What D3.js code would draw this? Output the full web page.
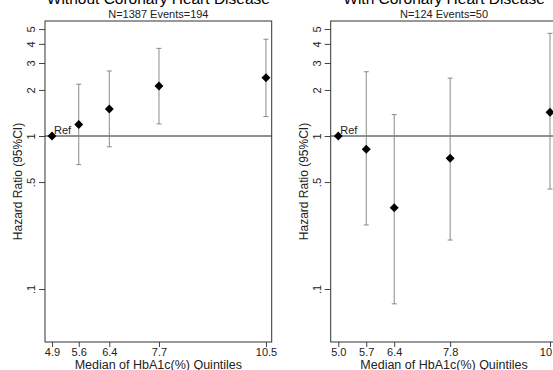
<!DOCTYPE html>
<html>
<head>
<meta charset="utf-8">
<script src="https://cdn.jsdelivr.net/npm/d3@7"></script>
<style>
  body { margin: 0; background: #fff; }
  svg { display: block; font-family: "Liberation Sans", Arial, sans-serif; }
</style>
</head>
<body>
<div id="chart"></div>
<script>
// HbA1c quintile medians and hazard ratios, one set per panel
const titles = ["Without Coronary Heart Disease", "With Coronary Heart Disease"];
const subtitles = ["N=1387 Events=194", "N=124 Events=50"];

const medianA = [4.9, 5.6, 6.4, 7.7, 10.5];
const hrA     = [1, 1.19, 1.50, 2.12, 2.40];
const lowA    = [null, 0.65, 0.85, 1.20, 1.34];
const highA   = [null, 2.18, 2.66, 3.74, 4.29];

const medianB = [5.0, 5.7, 6.4, 7.8, 10.3];
const hrB     = [1, 0.82, 0.34, 0.715, 1.43];
const lowB    = [null, 0.262, 0.080, 0.209, 0.45];
const highB   = [null, 2.63, 1.38, 2.39, 4.69];

const yTicks = [0.1, 0.5, 1, 2, 3, 4, 5];
const yTickLabels = [".1", ".5", "1", "2", "3", "4", "5"];

const W = 553, H = 370;

const svg = d3.select("#chart")
    .append("svg")
    .attr("width", W)
    .attr("height", H);

// one panel = one plot box
const panels = [
    { left: 45, right: 271.7, xdom: [4.717, 10.65], med: medianA, hr: hrA, lo: lowA, hi: highA },
    { left: 330.7, right: 557.4, xdom: [4.81, 10.485], med: medianB, hr: hrB, lo: lowB, hi: highB }
];
const plotTop = 21, plotBottom = 342;

panels.forEach((p, i) => {
    const x = d3.scaleLinear().domain(p.xdom).range([p.left, p.right]);
    // log scale: 1 -> 136, .1 -> 289
    const y = d3.scaleLog().domain([0.1, 1]).range([289, 136]);

    const g = svg.append("g");

    // y axis
    const yAxis = g.append("g")
        .attr("transform", `translate(${p.left},0)`)
        .call(d3.axisLeft(y).tickValues(yTicks)
            .tickFormat((d, k) => yTickLabels[k]).tickSize(6));
    yAxis.select(".domain").remove();
    yAxis.selectAll(".tick line").attr("stroke", "#444");
    yAxis.selectAll(".tick text")
        .attr("transform", "rotate(-90)")
        .attr("x", 0).attr("y", -10).attr("dy", 0)
        .attr("text-anchor", "middle")
        .attr("font-size", 11)
        .attr("fill", "#222")
        .style("font-family", "Liberation Sans, Arial, sans-serif");

    // x axis
    const xAxis = g.append("g")
        .attr("transform", `translate(0,${plotBottom})`)
        .call(d3.axisBottom(x).tickValues(p.med)
            .tickFormat(d3.format(".1f")).tickSize(5).tickPadding(1));
    xAxis.select(".domain").remove();
    xAxis.selectAll(".tick line").attr("stroke", "#444");
    xAxis.selectAll(".tick text")
        .attr("font-size", 11)
        .attr("fill", "#222")
        .style("font-family", "Liberation Sans, Arial, sans-serif");

    // plot box
    g.append("rect")
        .attr("x", p.left).attr("y", plotTop)
        .attr("width", p.right - p.left).attr("height", plotBottom - plotTop)
        .attr("fill", "none").attr("stroke", "#333").attr("stroke-width", 1);

    // reference line at HR = 1
    g.append("line")
        .attr("x1", p.left).attr("x2", p.right)
        .attr("y1", y(1)).attr("y2", y(1))
        .attr("stroke", "#222").attr("stroke-width", 1);

    // confidence intervals
    const idx = d3.range(p.med.length).filter(k => p.lo[k] != null);
    const ci = g.append("g").attr("stroke", "#8a8a8a").attr("stroke-width", 1);
    ci.selectAll("line.v").data(idx).enter().append("line")
        .attr("x1", k => x(p.med[k])).attr("x2", k => x(p.med[k]))
        .attr("y1", k => y(p.lo[k])).attr("y2", k => y(p.hi[k]));
    ci.selectAll("line.hi").data(idx).enter().append("line")
        .attr("x1", k => x(p.med[k]) - 2.5).attr("x2", k => x(p.med[k]) + 2.5)
        .attr("y1", k => y(p.hi[k])).attr("y2", k => y(p.hi[k]));
    ci.selectAll("line.lo").data(idx).enter().append("line")
        .attr("x1", k => x(p.med[k]) - 2.5).attr("x2", k => x(p.med[k]) + 2.5)
        .attr("y1", k => y(p.lo[k])).attr("y2", k => y(p.lo[k]));

    // diamond markers
    g.selectAll("path.pt").data(d3.range(p.med.length)).enter().append("path")
        .attr("d", d3.symbol().type(d3.symbolSquare).size(40))
        .attr("transform", k => `translate(${x(p.med[k])},${y(p.hr[k])}) rotate(45)`)
        .attr("fill", "#000");

    // Ref label
    g.append("text")
        .attr("x", x(p.med[0]) + 2).attr("y", y(1) - 2)
        .attr("font-size", 11).attr("fill", "#222")
        .text("Ref");

    const cx = (p.left + p.right) / 2;

    // titles
    g.append("text")
        .attr("x", cx).attr("y", 4)
        .attr("text-anchor", "middle")
        .attr("font-size", 15.5).attr("fill", "#000")
        .text(titles[i]);
    g.append("text")
        .attr("x", cx).attr("y", 17.5)
        .attr("text-anchor", "middle")
        .attr("font-size", 11).attr("fill", "#222")
        .text(subtitles[i]);

    // axis titles
    g.append("text")
        .attr("transform", `translate(${p.left - 23},${(plotTop + plotBottom) / 2}) rotate(-90)`)
        .attr("text-anchor", "middle")
        .attr("font-size", 12).attr("fill", "#222")
        .text("Hazard Ratio (95%CI)");
    g.append("text")
        .attr("x", cx).attr("y", 368.5)
        .attr("text-anchor", "middle")
        .attr("font-size", 12.5).attr("fill", "#222")
        .text("Median of HbA1c(%) Quintiles");
});
</script>
</body>
</html>
